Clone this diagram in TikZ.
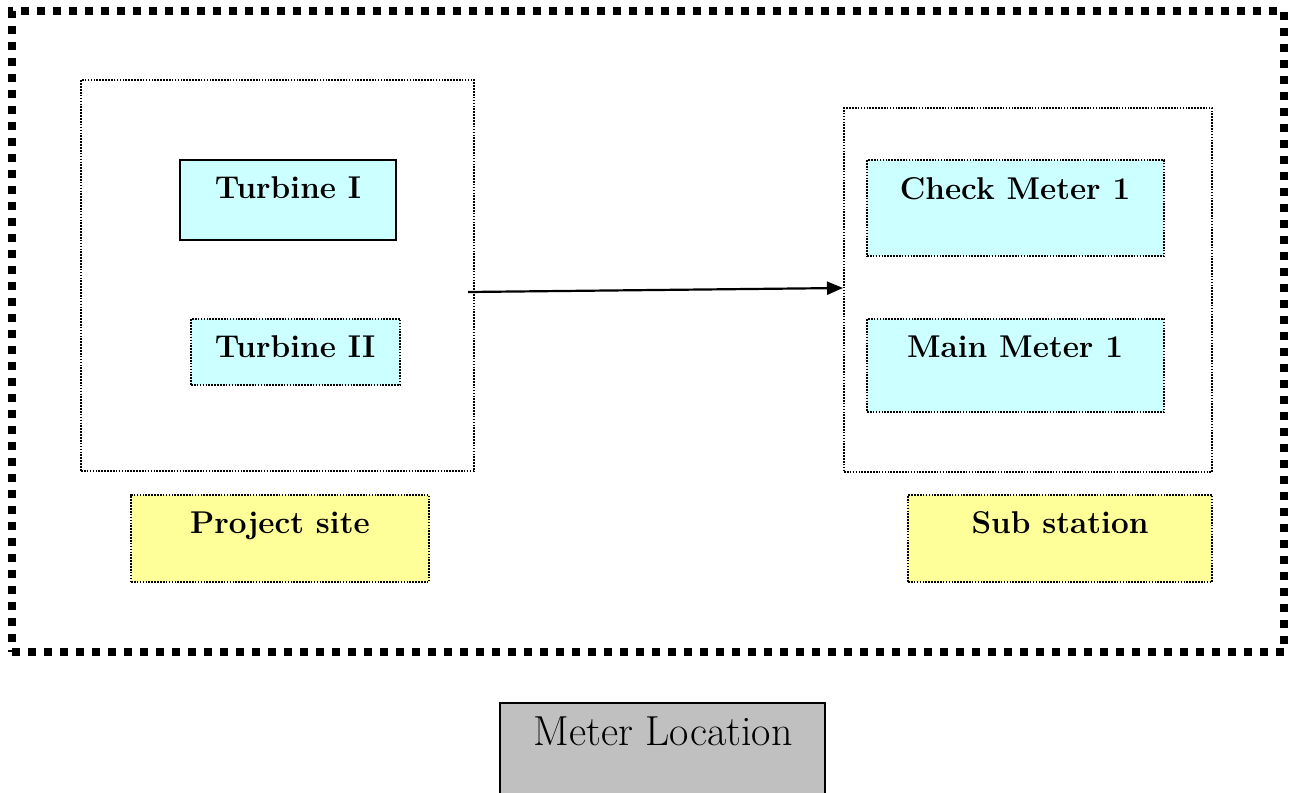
\documentclass[tikz,border=0pt]{standalone}
\usetikzlibrary{arrows.meta,calc}
\definecolor{boxcyan}{HTML}{CCFFFF}
\definecolor{boxyellow}{HTML}{FFFF99}
\definecolor{boxgray}{HTML}{C0C0C0}
\begin{document}
\begin{tikzpicture}[x=1pt,y=-1pt,
  every node/.style={inner sep=0pt,outer sep=0pt},
  fine dots/.style={dash pattern=on 1.6pt off 1.3pt,line width=2pt},
  area/.style={draw=black,fine dots,rectangle,anchor=north west},
  cyanbox/.style={area,fill=boxcyan},
  yellowbox/.style={area,fill=boxyellow},
  solidbox/.style={draw=black,line width=2.2pt,rectangle,anchor=north west},
  boldlbl/.style={anchor=base,font=\fontsize{31.5}{36}\selectfont\bfseries},
  plainlbl/.style={anchor=base,font=\fontsize{42}{48}\selectfont},
  flow/.style={line width=2.2pt,-{Triangle[length=16pt,width=13pt]}}
]
\clip (0,0) rectangle (1289,792);

% outer boundary
\node[draw=black,line width=8pt,dash pattern=on 8pt off 8pt,rectangle,
      anchor=north west,minimum width=1272,minimum height=641] (frame) at (12,11) {};

% project site
\node[area,minimum width=393,minimum height=391] (site) at (81,80) {};
\node[solidbox,fill=boxcyan,minimum width=216,minimum height=80] (t1) at (180,160) {};
\node[boldlbl] (t1l) at (288,198) {Turbine I};
\node[cyanbox,minimum width=209,minimum height=66] (t2) at (191,319) {};
\node[boldlbl] (t2l) at (295,357) {Turbine II};
\node[yellowbox,minimum width=298,minimum height=87] (sitebox) at (131,495) {};
\node[boldlbl] (sitel) at (280,533) {Project site};

% sub station
\node[area,minimum width=368,minimum height=364] (sub) at (844,108) {};
\node[cyanbox,minimum width=297,minimum height=96] (check) at (867,160) {};
\node[boldlbl] (checkl) at (1015,199) {Check Meter 1};
\node[cyanbox,minimum width=297,minimum height=93] (main) at (867,319) {};
\node[boldlbl] (mainl) at (1015,357) {Main Meter 1};
\node[yellowbox,minimum width=304,minimum height=87] (subbox) at (908,495) {};
\node[boldlbl] (subl) at (1060,533) {Sub station};

% connector between the two areas
\coordinate (from) at ($(site.north east)+(-6,212)$);
\coordinate (to) at ($(sub.north west)+(-1,180)$);
\draw[flow] (from) -- (to);

% legend
\node[solidbox,line width=1.6pt,fill=boxgray,minimum width=325,minimum height=100] (legend) at (500,703) {};
\node[plainlbl] (legendl) at (663,745) {Meter Location};
\end{tikzpicture}
\end{document}
